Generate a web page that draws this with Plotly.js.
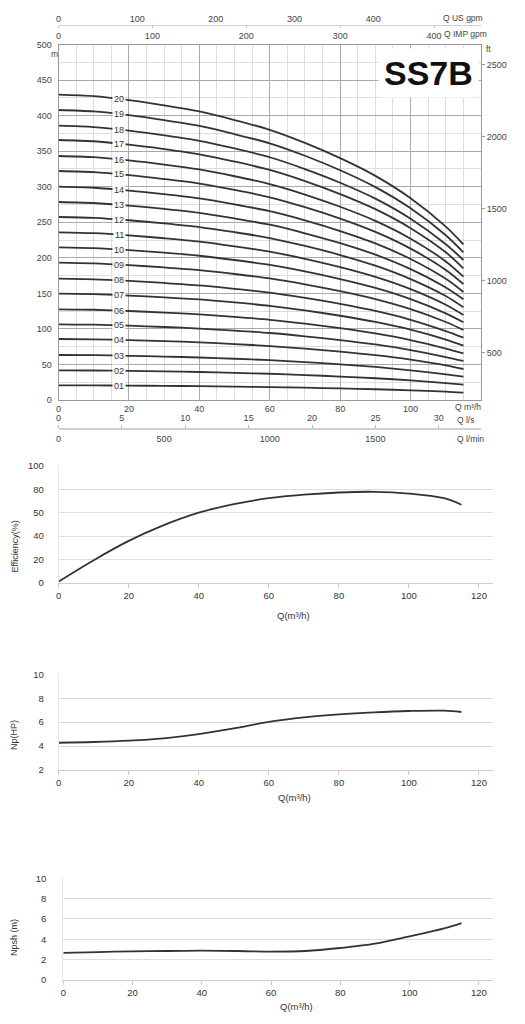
<!DOCTYPE html>
<html>
<head>
<meta charset="utf-8">
<script src="https://cdn.plot.ly/plotly-3.0.1.min.js"></script>
<style>
  html, body { margin: 0; padding: 0; background: #ffffff; }
  #chart { width: 525px; height: 1024px; }
</style>
</head>
<body>
<div id="chart"></div>
<script>
// ---------------- DATA ----------------
// Head curves (m) read at these flows (m³/h)
const Q_HEAD = [0, 10, 20, 30, 40, 50, 60, 70, 80, 90, 100, 110, 115];
const H01 = [20.6, 20.5, 20.2, 19.9, 19.5, 18.9, 18.2, 17.3, 16.3, 15.1, 13.6, 11.7, 10.3];
const H02 = [41.7, 41.5, 41.0, 40.2, 39.4, 38.2, 36.9, 35.1, 33.0, 30.6, 27.6, 23.7, 21.6];
const H03 = [63.3, 63.0, 62.2, 61.1, 59.8, 58.0, 56.0, 53.3, 50.1, 46.5, 41.8, 36.0, 32.8];
const H04 = [85.8, 85.4, 84.3, 82.8, 81.1, 78.7, 75.9, 72.2, 68.0, 63.0, 56.7, 48.7, 43.6];
const H05 = [106.4, 105.9, 104.5, 102.7, 100.5, 97.6, 94.2, 89.6, 84.3, 78.1, 70.3, 60.4, 54.9];
const H06 = [127.5, 126.9, 125.2, 123.0, 120.5, 116.9, 112.8, 107.4, 101.0, 93.6, 84.3, 72.4, 65.6];
const H07 = [149.6, 148.9, 146.9, 144.4, 141.4, 137.2, 132.4, 126.0, 118.5, 109.8, 98.9, 85.0, 76.4];
const H08 = [170.6, 169.7, 167.5, 164.6, 161.2, 156.4, 151.0, 143.6, 135.1, 125.2, 112.8, 96.9, 87.7];
const H09 = [193.2, 192.2, 189.7, 186.4, 182.6, 177.2, 171.0, 162.7, 153.0, 141.8, 127.7, 109.7, 98.5];
const H10 = [214.7, 213.6, 210.8, 207.2, 202.9, 196.9, 190.0, 180.8, 170.0, 157.6, 141.9, 121.9, 109.3];
const H11 = [235.8, 234.6, 231.6, 227.5, 222.8, 216.2, 208.7, 198.5, 186.8, 173.1, 155.9, 133.9, 119.5];
const H12 = [257.4, 256.1, 252.8, 248.4, 243.2, 236.0, 227.8, 216.7, 203.9, 188.9, 170.1, 146.2, 130.3];
const H13 = [278.5, 277.1, 273.5, 268.8, 263.2, 255.4, 246.5, 234.5, 220.6, 204.4, 184.1, 158.2, 141.6];
const H14 = [300.0, 298.5, 294.6, 289.5, 283.5, 275.1, 265.5, 252.6, 237.6, 220.2, 198.3, 170.4, 151.9];
const H15 = [322.1, 320.5, 316.3, 310.8, 304.4, 295.4, 285.1, 271.2, 255.1, 236.4, 212.9, 183.0, 163.2];
const H16 = [343.2, 341.5, 337.0, 331.2, 324.3, 314.7, 303.7, 289.0, 271.8, 251.9, 226.9, 194.9, 173.5];
const H17 = [365.7, 363.9, 359.1, 352.9, 345.6, 335.3, 323.6, 307.9, 289.6, 268.4, 241.7, 207.7, 185.2];
const H18 = [385.8, 383.9, 378.9, 372.3, 364.6, 353.8, 341.4, 324.8, 305.6, 283.2, 255.0, 219.1, 196.9];
const H19 = [407.9, 405.9, 400.6, 393.6, 385.5, 374.0, 361.0, 343.5, 323.1, 299.4, 269.6, 231.7, 207.7];
const H20 = [429.4, 427.3, 421.7, 414.4, 405.8, 393.8, 380.0, 361.6, 340.1, 315.2, 283.8, 243.9, 219.0];
const STAGE_LABELS = ["01","02","03","04","05","06","07","08","09","10",
                      "11","12","13","14","15","16","17","18","19","20"];
const HEADS = [H01,H02,H03,H04,H05,H06,H07,H08,H09,H10,
               H11,H12,H13,H14,H15,H16,H17,H18,H19,H20];

// Performance curves
const Q_PERF = [0, 10, 20, 30, 40, 50, 60, 70, 80, 90, 100, 110, 115];
const EFF  = [1, 19.3, 35.8, 49.3, 60.0, 67.3, 72.4, 75.4, 77.3, 77.9, 76.4, 72.4, 66.8];
const NP   = [4.28, 4.34, 4.45, 4.65, 5.0, 5.48, 6.02, 6.4, 6.65, 6.82, 6.93, 6.96, 6.85];
const NPSH = [2.66, 2.75, 2.82, 2.85, 2.88, 2.85, 2.79, 2.85, 3.15, 3.57, 4.3, 5.08, 5.6];

// Tick labels
const M_TICKS    = [0, 50, 100, 150, 200, 250, 300, 350, 400, 450, 500];
const FT_TICKS   = [500, 1000, 1500, 2000, 2500];
const Q_TICKS    = [0, 20, 40, 60, 80, 100];
const USGPM_TICKS = [0, 100, 200, 300, 400];
const IMPGPM_TICKS = [0, 100, 200, 300, 400];
const LS_TICKS   = [0, 5, 10, 15, 20, 25, 30];
const LMIN_TICKS = [0, 500, 1000, 1500];
const QP_TICKS   = [0, 20, 40, 60, 80, 100, 120];
const EFF_TICKS  = [0, 20, 40, 60, 80, 100];
const EFF_TICKTEXT = ["0", "20", "40", "50", "80", "100"];
const NP_TICKS   = [2, 4, 6, 8, 10];
const NPSH_TICKS = [0, 2, 4, 6, 8, 10];

// ---------------- LAYOUT HELPERS ----------------
const W = 525, H = 1024;
const px = v => v / W;
const py = v => 1 - v / H;

const NARROW = "Liberation Sans Narrow, Arial Narrow, sans-serif";
const SANS = "Liberation Sans, Arial, sans-serif";
const CURVE = "#333333";

const traces = [];
HEADS.forEach((h) => {
  traces.push({
    x: Q_HEAD, y: h, xaxis: "x", yaxis: "y", type: "scatter", mode: "lines",
    line: { color: CURVE, width: 1.8, shape: "spline", smoothing: 0.8 },
    hoverinfo: "skip", showlegend: false
  });
});
// empty traces to register the auxiliary axes
[["x2","y"],["x3","y"],["x4","y"],["x5","y"],["x","y2"]].forEach(([xa, ya]) => {
  traces.push({ x: [], y: [], xaxis: xa, yaxis: ya, type: "scatter", mode: "lines", showlegend: false, hoverinfo: "skip" });
});
const perfLine = { color: CURVE, width: 1.8, shape: "spline", smoothing: 1 };
traces.push({ x: Q_PERF, y: EFF, xaxis: "x6", yaxis: "y6", type: "scatter", mode: "lines",
  line: perfLine, showlegend: false, hoverinfo: "skip" });
traces.push({ x: Q_PERF, y: NP, xaxis: "x7", yaxis: "y7", type: "scatter", mode: "lines",
  line: perfLine, showlegend: false, hoverinfo: "skip" });
traces.push({ x: Q_PERF, y: NPSH, xaxis: "x8", yaxis: "y8", type: "scatter", mode: "lines",
  line: perfLine, showlegend: false, hoverinfo: "skip" });

// Stage labels on the curves (y interpolated from each curve's own values)
const LABEL_Q = 17.2;
function interp(xs, ys, x) {
  for (let i = 0; i < xs.length - 1; i++) {
    if (x >= xs[i] && x <= xs[i + 1]) {
      const t = (x - xs[i]) / (xs[i + 1] - xs[i]);
      return ys[i] + (ys[i + 1] - ys[i]) * t;
    }
  }
  return ys[ys.length - 1];
}
const annotations = HEADS.map((h, i) => ({
  x: LABEL_Q, y: interp(Q_HEAD, h, LABEL_Q), xref: "x", yref: "y",
  text: STAGE_LABELS[i], showarrow: false,
  font: { family: NARROW, size: 9, color: "#333" }, bgcolor: "#ffffff", borderpad: 1
}));

function note(text, x, y, size, opts) {
  return Object.assign({
    text: text, x: px(x), y: py(y), xref: "paper", yref: "paper", showarrow: false,
    xanchor: "center", yanchor: "middle",
    font: { family: NARROW, size: size || 8.5, color: "#444" }
  }, opts || {});
}
annotations.push(note("Q US gpm", 463, 18));
annotations.push(note("Q IMP gpm", 465, 34));
annotations.push(note("Q m³/h", 468, 407));
annotations.push(note("Q l/s", 465, 420));
annotations.push(note("Q l/min", 470, 439));
annotations.push(note("m", 54.5, 53.5));
annotations.push(note("ft", 488, 49));
annotations.push(note("<b>SS7B</b>", 428, 72.5, 34,
  { font: { family: NARROW, size: 34, color: "#111" }, bgcolor: "#ffffff", borderpad: 5 }));

// axis titles for the lower charts
const lowTitle = { family: SANS, size: 9.5, color: "#333" };
const lowYTitle = { family: NARROW, size: 9, color: "#333" };
annotations.push(note("Q(m³/h)", 293, 615, 9.5, { font: lowTitle }));
annotations.push(note("Q(m³/h)", 294, 797, 9.5, { font: lowTitle }));
annotations.push(note("Q(m³/h)", 296, 1006.5, 9.5, { font: lowTitle }));
annotations.push(note("Efficiency(%)", 14, 546.5, 9, { font: lowYTitle, textangle: -90 }));
annotations.push(note("Np(HP)", 14, 735, 9, { font: lowYTitle, textangle: -90 }));
annotations.push(note("Npsh (m)", 14, 938, 9, { font: lowYTitle, textangle: -90 }));

const tickFontTop = { family: NARROW, size: 9, color: "#444" };
const tickFontLow = { family: SANS, size: 9.5, color: "#333" };

const topX = [px(58.5), px(481)];
const lowX = [px(58.7), px(493)];
const lowX8 = [px(63.3), px(492.7)];

function lowXAxis(domain, anchor) {
  return {
    domain: domain, anchor: anchor, range: [0, 124], tickvals: QP_TICKS,
    ticks: "outside", ticklen: 4, tickcolor: "#ccc", showgrid: false, zeroline: false,
    showline: true, linecolor: "#cccccc", linewidth: 1, tickfont: tickFontLow
  };
}
function lowYAxis(domain, anchor, range, tickvals, standoff) {
  return {
    domain: domain, anchor: anchor, range: range, tickvals: tickvals, ticks: "",
    showgrid: true, gridcolor: "#dddddd", zeroline: false,
    showline: true, linecolor: "#e6e6e6", tickfont: tickFontLow, ticklabelstandoff: standoff
  };
}

const layout = {
  width: W, height: H,
  margin: { l: 0, r: 0, t: 0, b: 0, pad: 0 },
  paper_bgcolor: "#ffffff", plot_bgcolor: "#ffffff",
  showlegend: false,
  annotations: annotations,
  // ---- head chart ----
  xaxis: {
    domain: topX, anchor: "y", range: [0, 120], tickvals: Q_TICKS, ticks: "",
    showgrid: true, gridcolor: "#a9a9a9", gridwidth: 1,
    minor: { dtick: 5, tick0: 0, showgrid: true, gridcolor: "#dedede", gridwidth: 1 },
    showline: true, mirror: true, linecolor: "#999", linewidth: 1,
    zeroline: false, tickfont: tickFontTop, ticklabelstandoff: 0
  },
  yaxis: {
    domain: [py(400), py(44.5)], anchor: "x", range: [0, 500], tickvals: M_TICKS, ticks: "",
    showgrid: true, gridcolor: "#a9a9a9", gridwidth: 1,
    minor: { dtick: 25, tick0: 0, showgrid: true, gridcolor: "#dedede", gridwidth: 1 },
    showline: true, mirror: true, linecolor: "#999", linewidth: 1,
    zeroline: false, tickfont: tickFontTop, ticklabelstandoff: 4
  },
  yaxis2: {
    overlaying: "y", side: "right", anchor: "x", range: [172, 2640], tickvals: FT_TICKS,
    ticks: "outside", ticklen: 3, tickcolor: "#999", showgrid: false, zeroline: false,
    showline: false, tickfont: tickFontTop
  },
  xaxis2: {
    overlaying: "x", anchor: "free", position: py(24.5), side: "top",
    range: [0, 537], tickvals: USGPM_TICKS, ticks: "", showgrid: false, zeroline: false,
    showline: false, tickfont: tickFontTop, ticklabelstandoff: 1
  },
  xaxis3: {
    overlaying: "x", anchor: "free", position: py(24.5), side: "bottom",
    range: [0, 450], tickvals: IMPGPM_TICKS, ticks: "outside", ticklen: 2, tickcolor: "#bbb",
    showgrid: false, zeroline: false, showline: true, linecolor: "#cfcfcf", linewidth: 1.5,
    tickfont: tickFontTop
  },
  xaxis4: {
    overlaying: "x", anchor: "free", position: py(428), side: "top",
    range: [0, 120 / 3.6], tickvals: LS_TICKS, ticks: "outside", ticklen: 3, tickcolor: "#bbb",
    showgrid: false, zeroline: false, showline: true, linecolor: "#cfcfcf", linewidth: 1.5,
    tickfont: tickFontTop
  },
  xaxis5: {
    overlaying: "x", anchor: "free", position: py(428), side: "bottom",
    range: [0, 2000], tickvals: LMIN_TICKS, ticks: "", showgrid: false, zeroline: false,
    showline: false, tickfont: tickFontTop, ticklabelstandoff: 4
  },
  // ---- efficiency ----
  xaxis6: lowXAxis(lowX, "y6"),
  yaxis6: Object.assign(lowYAxis([py(582.7), py(466)], "x6", [0, 100], EFF_TICKS, 12),
                        { ticktext: EFF_TICKTEXT }),
  // ---- power ----
  xaxis7: lowXAxis(lowX, "y7"),
  yaxis7: lowYAxis([py(770), py(674.3)], "x7", [2, 10], NP_TICKS, 12),
  // ---- NPSH ----
  xaxis8: lowXAxis(lowX8, "y8"),
  yaxis8: lowYAxis([py(980), py(878.3)], "x8", [0, 10], NPSH_TICKS, 14)
};

Plotly.newPlot("chart", traces, layout, { staticPlot: true, displayModeBar: false });
</script>
</body>
</html>
